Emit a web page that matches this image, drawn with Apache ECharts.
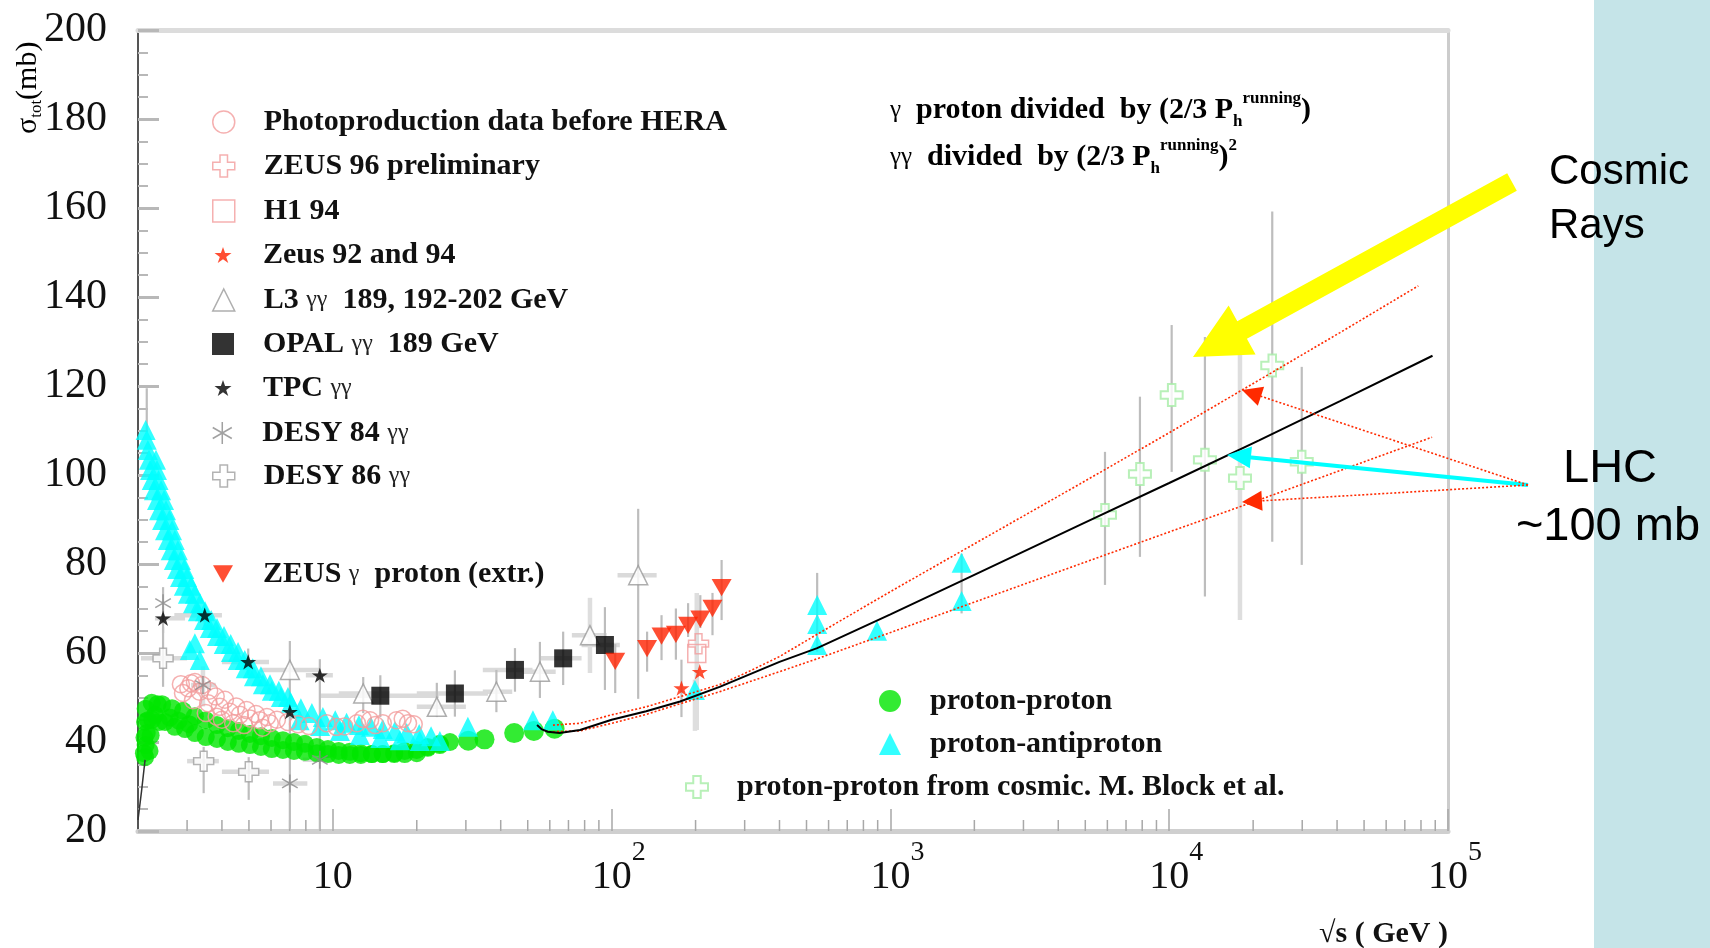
<!DOCTYPE html>
<html><head><meta charset="utf-8">
<script src="https://cdn.jsdelivr.net/npm/echarts@6/dist/echarts.min.js"></script>
<style>html,body{margin:0;padding:0;background:#fff;}#c{width:1710px;height:948px;}</style>
</head><body><div id="c"></div>
<script>
// ================= DATA =================
const X_MIN = 2, X_MAX = 100000;
const Y_MIN = 20, Y_MAX = 200, Y_STEP = 20;
const X_DECADES = [1, 10, 100, 1000, 10000];
const X_MINOR_MULT = [2, 3, 4, 5, 6, 7, 8, 9];

const N_PHOTO = 'Photoproduction data before HERA';
const N_Z96 = 'ZEUS 96 preliminary';
const N_H1 = 'H1 94';
const N_Z9294 = 'Zeus 92 and 94';
const N_L3 = 'L3 γγ  189, 192-202 GeV';
const N_OPAL = 'OPAL γγ  189 GeV';
const N_TPC = 'TPC γγ';
const N_D84 = 'DESY 84 γγ';
const N_D86 = 'DESY 86 γγ';
const N_ZGP = 'ZEUS γ  proton (extr.)';
const N_PP = 'proton-proton';
const N_PPBAR = 'proton-antiproton';
const N_COS = 'proton-proton from cosmic. M. Block et al.';

// proton-proton (dense low-energy band)
const PP_BAND = [
[2.24,48.8],[2.44,48.5],[2.65,47.6],[2.90,47.0],[3.20,45.8],[3.50,44.9],[3.84,43.8],[4.20,43.1],[4.60,42.5],[5.04,41.8],[5.52,41.3],[6.04,40.9],[6.62,40.4],[7.25,40.0],[7.94,39.6],[8.76,38.9],[9.60,38.4],[10.5,38.0],[11.5,37.8],[12.6,37.5],[13.8,37.3],[15.1,37.3],[16.6,37.3],[18.1,37.3],[20.0,37.5],[21.9,38.7],[24.2,39.6],[26.3,40.0],
[2.12,36.6],[2.13,39.3],[2.15,42.0],[2.17,44.9],[2.30,46.1],[2.50,44.5],[2.71,43.4],[2.95,42.9],[3.20,42.0],[3.50,41.1],[3.84,40.7],[4.20,40.0],[4.60,39.6],[5.04,39.3],[5.52,38.9],[6.04,38.4],[6.62,38.2],[7.25,38.0],[7.94,37.8],[8.76,37.5],[9.60,37.3],[10.5,37.1],[11.5,37.1],[12.6,37.1],[13.8,37.3],[15.1,37.3],[16.6,37.5],[18.1,38.0],[20.0,38.2],[21.9,38.9],[24.2,39.3],
[2.10,37.5],[2.11,41.0],[2.12,44.5],[2.13,47.5],[2.20,38.0],[2.22,41.5],[2.25,45.0],[2.35,48.5],[2.38,44.5],[2.60,45.5],[2.80,44.8],[3.05,44.0]
];
const PP_ISR = [[30.6,40.3],[35.0,40.6],[44.7,42.0],[52.6,42.5],[62.4,43.0]];

// proton-antiproton
const PPBAR = [
[2.13,110.1],[2.15,107.9],[2.17,105.6],[2.19,103.4],[2.21,101.1],[2.24,98.9],[2.28,96.6],[2.34,94.4],[2.38,92.1],[2.44,89.9],[2.50,87.6],[2.56,85.4],[2.62,83.1],[2.69,80.9],[2.76,78.9],[2.83,77.1],[2.92,75.1],[3.02,73.3],[3.15,71.2],[3.28,69.4],[3.45,67.4],[3.62,65.6],[3.84,63.8],[4.06,62.0],[4.31,60.2],[4.56,58.4],[4.87,56.6],[5.21,54.8],[5.61,53.0],[6.04,51.5],[6.51,50.1],[7.07,48.8],[7.68,47.6],[8.41,46.5],[9.21,45.6],[10.2,44.9],[11.2,44.3],[12.4,43.8],[13.7,43.4],[15.1,42.9],[16.7,42.5],[18.4,42.0],[20.4,41.8],[22.5,41.3],
[2.32,103.4],[2.34,101.1],[2.37,98.9],[2.42,96.6],[2.48,94.4],[2.52,92.1],[2.59,89.9],[2.65,87.6],[2.71,85.4],[2.78,83.1],[2.85,80.9],[2.93,78.9],[3.00,77.1],[3.10,75.1],[3.20,73.3],[3.34,71.2],[3.48,69.4],[3.66,67.4],[3.84,65.6],[4.07,63.8],[4.30,62.0],[4.57,60.2],[4.83,58.4],[5.16,56.6],[5.52,54.8],[5.95,53.0],[6.40,51.5],[6.90,50.1],
[7.6,44.9],[9.0,43.6],[10.6,42.5],[12.5,41.6],[14.8,40.9],[17.4,40.4],[20.5,40.2],[24.2,40.2],
[3.07,60.7],[3.33,58.4],[3.20,62.2],
[30.5,43.4],[52.2,44.9],[61.5,44.9],[199,51.7],[546,70.8],[546,66.5],[546,61.8],[895,65.0],[1800,80.3],[1800,71.7]
];

const PHOTO = [[2.85,53.0],[3.03,52.1],[3.2,53.5],[3.33,51.3],[3.15,49.4],[3.57,48.7],[3.93,47.9],[4.27,46.8],[4.64,46.1],[5.04,45.3],[5.47,44.9],[5.94,44.2],[3.83,45.7],[4.39,44.2],[9.5,44.2],[10.3,43.4],[12.2,44.2],[13.6,44.9],[15.1,44.2],[16.9,44.9],[18.6,44.2],
[2.9,51.0],[3.1,53.2],[3.4,52.8],[3.6,51.5],[3.8,50.2],[4.1,49.5],[4.5,48.0],[4.9,47.2],[5.3,46.3],[5.8,45.6],[6.3,45.0],[6.9,44.5],[7.5,44.0],[8.2,43.6],[3.5,46.5],[4.0,45.0],[4.8,43.8],[5.6,43.2],[11.0,43.5],[14.2,43.8],[17.8,45.2],[19.5,44.0],[12.8,45.2]];
const Z96 = [[205,62.1]];
const H1 = [[202,59.9]];
const Z9294 = [[178,52.1],[207,55.8]];
const L3 = [[7.01,56.2],[12.85,50.9],[23.6,47.9],[38.6,51.3],[55.3,55.8],[83.6,64.0],[124.5,77.5]];
const OPAL = [[14.8,50.4],[27.4,50.9],[45.0,56.2],[67.0,58.8],[94.6,61.8]];
const TPC = [[2.46,67.8],[3.47,68.5],[4.97,58.0],[7.01,46.8],[8.98,55.0]];
const D84 = [[2.46,71.2],[3.42,52.8],[7.01,30.7],[8.98,36.0]];
const D86 = [[2.46,58.8],[3.44,35.7],[4.99,33.3]];
const ZGP = [[103,58.1],[134,61.0],[151,63.8],[170,64.2],[188,66.2],[208,67.6],[230,70.0],[248,74.7]];
const COSMIC = [[5883,91.0],[7852,100.2],[10205,118.0],[13430,103.4],[17940,99.3],[23420,124.6],[29880,103.0]];

// fits
const FIT_CENTRAL = [[54,43.8],[56,42.9],[59,42.3],[65,42.0],[77,42.7],[100,45.0],[133,46.9],[176,49.1],[244,52.4],[400,58.0],[546,61.1],[1000,68.7],[1800,76.2],[4787,88.8],[10000,98.2],[21000,107.8],[40990,116.6],[88000,126.8]];
const FIT_UPPER = [[61.6,43.8],[77,44.2],[100,46.1],[133,47.9],[176,50.2],[244,52.9],[300,55.4],[400,59.2],[546,64.2],[1000,73.8],[1800,82.9],[4787,98.0],[10000,109.5],[40990,132.0],[78260,142.5]];
const FIT_LOWER = [[61.6,42.3],[77,42.5],[100,44.2],[133,46.2],[176,48.6],[244,51.3],[400,55.8],[546,58.7],[1000,64.6],[1800,70.4],[4787,80.0],[10000,87.2],[21000,94.4],[40990,101.0],[87700,108.5]];
const THRESH_LINE = [[2.0,22.5],[2.06,29],[2.12,36]];

// error bars: vertical [s, lo, hi], horizontal [sigma, sLo, sHi]
const ERR_V_DARK = [
[2.46,64.5,74.8],[3.47,66.0,71.0],[4.97,55.0,61.0],
[7.01,20.5,62.7],[8.98,20.4,58.6],
[2.46,52.4,65.8],[3.44,28.5,38.9],[4.99,27.0,36.6],
[12.85,46.5,54.6],[23.6,45.6,53.3],[38.6,46.7,56.2],[55.3,49.9,62.5],[124.5,49.7,92.4],
[14.8,45.6,55.0],[27.4,45.7,56.1],[45.0,51.3,61.1],[67.0,52.8,64.8],[94.6,51.7,70.3],
[103,51,62],[134,55.8,64.8],[151,58.4,68.5],[170,58.5,70],[188,63.6,71.2],[208,65.6,73],[230,64,73.5],[248,67.4,80.9],
[178,45.6,58.5],
[2.15,110,119.5],[546,60.3,78],[1800,68.9,82.3],
[5883,75.3,105.2],[7852,81.6,117.6],[10205,100.7,133.7],[13430,72.7,131],[23420,85,159.2],[29880,79.8,124.3]
];
const ERR_V_LIGHT = [[83.6,55.5,72.4],[202,42.7,73.5],[199,42.5,54],[17940,67.4,127],[3.42,48,57]];
const ERR_H = [
[67.8,2.3,2.95],[68.5,2.7,4.0],[58.0,4.0,5.9],[55.0,8.0,10.0],
[58.8,2.05,3.0],[35.7,3.0,3.9],[33.3,4.0,5.9],
[30.7,6.1,8.1],[36.0,7.8,10.0],[52.8,3.1,3.8],
[56.2,5.5,9.0],[50.9,10.5,16],[47.9,20,30],[51.3,34.5,44],[55.8,48,63],[64.0,72,96],[77.5,105,145],
[50.4,9,24],[50.9,20,36],[56.2,34.5,52],[58.8,55,78],[61.8,78,107]
];

// ================= STYLE / LAYOUT =================
const SERIF = '"Liberation Serif", "Times New Roman", serif';
const SANS = '"Liberation Sans", Arial, sans-serif';
const CROSS = 'path://M3.3,0H6.7V3.3H10V6.7H6.7V10H3.3V6.7H0V3.3H3.3Z';
const STAR = 'path://M5,0L6.18,3.45L9.76,3.45L6.79,5.6L7.94,9.05L5,6.9L2.06,9.05L3.21,5.6L0.24,3.45L3.82,3.45Z';
const ASTER = 'path://M5,0L5,10M0.67,2.5L9.33,7.5M0.67,7.5L9.33,2.5';
const DOWNTRI = 'path://M0,0L10,0L5,8.66Z';
const PINK = '#f39c9c';
const RED = '#ff2200';

const STY = {};
STY[N_PHOTO] = {symbol:'circle', size:17, itemStyle:{color:'rgba(255,255,255,0)', borderColor:PINK, borderWidth:1.5}};
STY[N_Z96] = {symbol:CROSS, size:20, itemStyle:{color:'rgba(255,255,255,0)', borderColor:PINK, borderWidth:1.5}};
STY[N_H1] = {symbol:'rect', size:18, itemStyle:{color:'rgba(255,255,255,0)', borderColor:PINK, borderWidth:1.5}};
STY[N_Z9294] = {symbol:STAR, size:16, itemStyle:{color:RED}};
STY[N_L3] = {symbol:'triangle', size:19, itemStyle:{color:'#ffffff', borderColor:'#9a9a9a', borderWidth:1.5}};
STY[N_OPAL] = {symbol:'rect', size:18, itemStyle:{color:'#000000'}};
STY[N_TPC] = {symbol:STAR, size:16, itemStyle:{color:'#000000'}};
STY[N_D84] = {symbol:ASTER, size:18, itemStyle:{color:'rgba(0,0,0,0)', borderColor:'#8a8a8a', borderWidth:1.5}};
STY[N_D86] = {symbol:CROSS, size:20, itemStyle:{color:'#ffffff', borderColor:'#a0a0a0', borderWidth:1.5}};
STY[N_ZGP] = {symbol:DOWNTRI, size:20, itemStyle:{color:RED}};
STY[N_PP] = {symbol:'circle', size:18, itemStyle:{color:'#00e600'}};
STY[N_PPBAR] = {symbol:'triangle', size:20, itemStyle:{color:'#00ffff'}};
STY[N_COS] = {symbol:CROSS, size:22, itemStyle:{color:'#ffffff', borderColor:'#a6eca6', borderWidth:2}};

// legend layout: name, icon centre x, row centre y, text start x, icon size
const LEGEND_LAYOUT = [
  [N_PHOTO, 223, 124, 263, 22],
  [N_Z96, 223, 168, 263, 22],
  [N_H1, 223, 213, 263, 22],
  [N_Z9294, 223, 257, 263, 17],
  [N_L3, 223, 302, 263, 22],
  [N_OPAL, 223, 346, 263, 22],
  [N_TPC, 223, 390, 263, 17],
  [N_D84, 223, 435, 263, 22],
  [N_D86, 223, 478, 263, 22],
  [N_ZGP, 223, 576, 263, 20],
  [N_PP, 890, 703, 930, 22],
  [N_PPBAR, 890, 746, 930, 22],
  [N_COS, 696, 789, 736, 22]
];

function richify(name) {
  return name.split(/(γ+)/).filter(t => t.length).map(t => /^γ+$/.test(t) ? '{g|' + t + '}' : '{b|' + t + '}').join('');
}
const LEG_RICH = {
  b: {fontFamily: SERIF, fontWeight: 'bold', fontSize: 30, lineHeight: 34, color: '#111', verticalAlign: 'middle'},
  g: {fontFamily: SERIF, fontWeight: 'normal', fontSize: 24, lineHeight: 34, color: '#222', verticalAlign: 'middle'}
};
const TEXT_H = 34;

const legends = LEGEND_LAYOUT.map(([name, cx, cy, tx, sz]) => {
  const left = cx - sz / 2;
  const st = STY[name];
  return {
    show: true, data: [{name: name, icon: st.symbol}], left: left, top: cy - TEXT_H / 2,
    orient: 'horizontal', itemWidth: sz, itemHeight: sz, itemGap: 0, padding: 0, selectedMode: false,
    formatter: richify,
    itemStyle: Object.assign({borderWidth: 0, borderColor: 'rgba(0,0,0,0)'}, st.itemStyle),
    textStyle: {fontFamily: SERIF, fontSize: 30, fontWeight: 'bold', color: '#111', padding: [0, 0, 0, tx - (left + sz + 5)], rich: LEG_RICH}
  };
});

function scatter(name, data, extra) {
  const st = STY[name];
  return Object.assign({
    type: 'scatter', name: name, data: data, symbol: st.symbol, symbolSize: st.size,
    symbolKeepAspect: true, itemStyle: st.itemStyle, silent: true, z: 3
  }, extra || {});
}

const MINOR_TICKS = [];
X_DECADES.forEach(d => X_MINOR_MULT.forEach(m => { const v = d * m; if (v > X_MIN && v < X_MAX) MINOR_TICKS.push([v, Y_MIN]); }));

function vBarSeries(data, color, width) {
  return {type: 'custom', data: data, silent: true, z: 2, encode: {x: 0, y: [1, 2]},
    renderItem: function (p, api) {
      const a = api.coord([api.value(0), api.value(1)]), b = api.coord([api.value(0), api.value(2)]);
      return {type: 'line', shape: {x1: a[0], y1: a[1], x2: b[0], y2: b[1]}, style: {stroke: color, lineWidth: width}};
    }};
}
function hBarSeries(data, color, width) {
  return {type: 'custom', data: data, silent: true, z: 2, encode: {x: [1, 2], y: 0},
    renderItem: function (p, api) {
      const a = api.coord([api.value(1), api.value(0)]), b = api.coord([api.value(2), api.value(0)]);
      return {type: 'line', shape: {x1: a[0], y1: a[1], x2: b[0], y2: b[1]}, style: {stroke: color, lineWidth: width}};
    }};
}

// x axis labels 10, 10^2 ...
const XL_RICH = {
  b: {fontFamily: SERIF, fontSize: 40, lineHeight: 76, color: '#111', verticalAlign: 'middle'},
  e: {fontFamily: SERIF, fontSize: 28, lineHeight: 28, color: '#111', verticalAlign: 'top'},
  p: {fontFamily: SERIF, fontSize: 28, lineHeight: 28, color: 'rgba(0,0,0,0)', verticalAlign: 'top'}
};
function xLabel(v) {
  const e = Math.round(Math.log10(v));
  if (Math.abs(Math.pow(10, e) - v) > 1e-6 * v) return '';
  if (e === 1) return '{b|10}';
  return '{p|' + e + '}{b|10}{e|' + e + '}';
}

// arrows (annotation graphics, pixel layout)
function arrowPolygon(tail, tip, shaftW, headL, headW) {
  const dx = tip[0] - tail[0], dy = tip[1] - tail[1], L = Math.hypot(dx, dy);
  const ux = dx / L, uy = dy / L, nx = -uy, ny = ux;
  const bx = tip[0] - ux * headL, by = tip[1] - uy * headL;
  const s = shaftW / 2, h = headW / 2;
  return [[tail[0] + nx * s, tail[1] + ny * s], [bx + nx * s, by + ny * s], [bx + nx * h, by + ny * h], tip,
          [bx - nx * h, by - ny * h], [bx - nx * s, by - ny * s], [tail[0] - nx * s, tail[1] - ny * s]];
}
function lineArrow(tail, tip, headL, headW, color, width, dash) {
  const dx = tip[0] - tail[0], dy = tip[1] - tail[1], L = Math.hypot(dx, dy);
  const ux = dx / L, uy = dy / L, nx = -uy, ny = ux;
  const bx = tip[0] - ux * headL, by = tip[1] - uy * headL, h = headW / 2;
  return [
    {type: 'line', z: 100, shape: {x1: tail[0], y1: tail[1], x2: bx + ux * 2, y2: by + uy * 2}, style: {stroke: color, lineWidth: width, lineDash: dash || null}},
    {type: 'polygon', z: 100, shape: {points: [tip, [bx + nx * h, by + ny * h], [bx - nx * h, by - ny * h]]}, style: {fill: color}}
  ];
}
const LHC_FROM = [1528, 485];

const ANNOT_RICH = {
  b: {fontFamily: SERIF, fontWeight: 'bold', fontSize: 30, lineHeight: 40, color: '#111', verticalAlign: 'middle'},
  g: {fontFamily: SERIF, fontWeight: 'normal', fontSize: 25, lineHeight: 40, color: '#222', verticalAlign: 'middle'},
  sup: {fontFamily: SERIF, fontWeight: 'bold', fontSize: 17, lineHeight: 20, color: '#111', verticalAlign: 'top'},
  sub: {fontFamily: SERIF, fontWeight: 'bold', fontSize: 17, lineHeight: 18, color: '#111', verticalAlign: 'bottom'}
};

const graphics = [
  {type: 'rect', z: -10, shape: {x: 1594, y: 0, width: 116, height: 948}, style: {fill: '#c5e4e8'}},
  {type: 'text', z: 100, x: 28, y: 134, rotation: Math.PI / 2,
    style: {text: '{a|σ}{s|tot}{a|(mb)}', align: 'left', verticalAlign: 'middle',
      rich: {a: {fontFamily: SERIF, fontSize: 30, lineHeight: 34, color: '#111', verticalAlign: 'middle'},
             s: {fontFamily: SERIF, fontSize: 17, lineHeight: 16, color: '#111', verticalAlign: 'bottom'}}}},
  {type: 'text', z: 100, x: 1448, y: 934, style: {text: '√s ( GeV )', fontFamily: SERIF, fontWeight: 'bold', fontSize: 30, fill: '#111', align: 'right', verticalAlign: 'middle'}},
  {type: 'text', z: 100, x: 890, y: 110, style: {text: '{g|γ}{b|  proton divided  by (2/3 P}{sub|h}{sup|running}{b|)}', align: 'left', verticalAlign: 'middle', rich: ANNOT_RICH}},
  {type: 'text', z: 100, x: 890, y: 157, style: {text: '{g|γγ}{b|  divided  by (2/3 P}{sub|h}{sup|running}{b|)}{sup|2}', align: 'left', verticalAlign: 'middle', rich: ANNOT_RICH}},
  {type: 'text', z: 100, x: 1549, y: 172, style: {text: 'Cosmic', fontFamily: SANS, fontSize: 42, fill: '#000', align: 'left', verticalAlign: 'middle'}},
  {type: 'text', z: 100, x: 1549, y: 226, style: {text: 'Rays', fontFamily: SANS, fontSize: 42, fill: '#000', align: 'left', verticalAlign: 'middle'}},
  {type: 'text', z: 100, x: 1610, y: 469, style: {text: 'LHC', fontFamily: SANS, fontSize: 47, fill: '#000', align: 'center', verticalAlign: 'middle'}},
  {type: 'text', z: 100, x: 1608, y: 527, style: {text: '~100 mb', fontFamily: SANS, fontSize: 47, fill: '#000', align: 'center', verticalAlign: 'middle'}},
  {type: 'polygon', z: 100, shape: {points: arrowPolygon([1512, 182], [1193, 357], 20, 56, 56)}, style: {fill: '#ffff00'}}
].concat(
  lineArrow(LHC_FROM, [1227, 455], 24, 22, '#00ffff', 4),
  lineArrow(LHC_FROM, [1242, 390], 20, 20, '#ff2a00', 1.6, [2, 2]),
  lineArrow(LHC_FROM, [1242, 502], 20, 20, '#ff2a00', 1.6, [2, 2])
);

const option = {
  animation: false,
  backgroundColor: '#ffffff',
  grid: {left: 138, right: 262, top: 30, bottom: 117, containLabel: false, outerBoundsMode: 'none'},
  xAxis: [
    {type: 'log', logBase: 10, min: X_MIN, max: X_MAX, position: 'bottom',
      axisLine: {show: true, lineStyle: {color: '#cfcfcf', width: 5}},
      axisTick: {show: true, inside: true, length: 22, lineStyle: {color: '#a8a8a8', width: 1.5}},
      minorTick: {show: false}, splitLine: {show: false},
      axisLabel: {show: true, margin: 8, formatter: xLabel, rich: XL_RICH, showMinLabel: false}},
    {type: 'log', logBase: 10, min: X_MIN, max: X_MAX, position: 'top',
      axisLine: {show: true, lineStyle: {color: '#dcdcdc', width: 5}},
      axisTick: {show: false}, axisLabel: {show: false}, splitLine: {show: false}}
  ],
  yAxis: [
    {type: 'value', min: Y_MIN, max: Y_MAX, interval: Y_STEP, position: 'left',
      axisLine: {show: true, lineStyle: {color: '#555555', width: 2}},
      axisTick: {show: true, inside: true, length: 21, lineStyle: {color: '#b8b8b8', width: 3}},
      minorTick: {show: true, splitNumber: 4, length: 10, lineStyle: {color: '#b8b8b8', width: 2}},
      splitLine: {show: false}, minorSplitLine: {show: false},
      axisLabel: {show: true, margin: 31, fontFamily: SERIF, fontSize: 42, color: '#111'}},
    {type: 'value', min: Y_MIN, max: Y_MAX, position: 'right',
      axisLine: {show: true, lineStyle: {color: '#cccccc', width: 3}},
      axisTick: {show: false}, axisLabel: {show: false}, splitLine: {show: false}}
  ],
  legend: legends,
  graphic: graphics,
  series: [
    {type: 'custom', data: MINOR_TICKS, silent: true, z: 1, encode: {x: 0, y: 1},
      renderItem: function (p, api) {
        const c = api.coord([api.value(0), api.value(1)]);
        return {type: 'line', shape: {x1: c[0], y1: c[1], x2: c[0], y2: c[1] - 11}, style: {stroke: '#a8a8a8', lineWidth: 1.5}};
      }},
    hBarSeries(ERR_H, '#dadada', 4.5),
    vBarSeries(ERR_V_LIGHT, '#dedede', 4.5),
    vBarSeries(ERR_V_DARK, '#bdbdbd', 2.2),
    scatter(N_PP, PP_BAND),
    scatter(N_PP, PP_ISR, {symbolSize: 20}),
    scatter(N_PPBAR, PPBAR),
    scatter(N_PHOTO, PHOTO),
    scatter(N_D86, D86),
    scatter(N_D84, D84),
    scatter(N_L3, L3),
    scatter(N_TPC, TPC),
    scatter(N_OPAL, OPAL),
    scatter(N_ZGP, ZGP),
    scatter(N_H1, H1),
    scatter(N_Z96, Z96),
    scatter(N_Z9294, Z9294),
    scatter(N_COS, COSMIC),
    {type: 'line', data: THRESH_LINE, showSymbol: false, silent: true, z: 4, lineStyle: {color: '#333', width: 1.5}},
    {type: 'line', data: FIT_UPPER, showSymbol: false, silent: true, z: 4, lineStyle: {color: '#ff2a00', width: 1.6, type: [2, 2]}},
    {type: 'line', data: FIT_LOWER, showSymbol: false, silent: true, z: 4, lineStyle: {color: '#ff2a00', width: 1.6, type: [2, 2]}},
    {type: 'line', data: FIT_CENTRAL, showSymbol: false, silent: true, z: 5, lineStyle: {color: '#000000', width: 2}}
  ]
};

const chart = echarts.init(document.getElementById('c'), null, {renderer: 'canvas', width: 1710, height: 948});
chart.setOption(option);
</script>
</body></html>
